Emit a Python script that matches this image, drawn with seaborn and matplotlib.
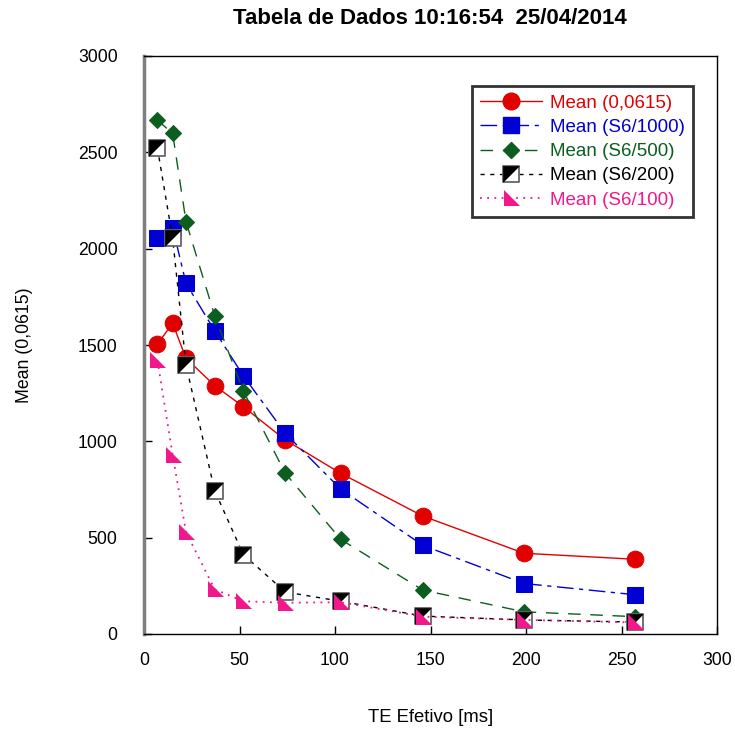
import numpy as np
import pandas as pd
import matplotlib
matplotlib.use("Agg")
import matplotlib.pyplot as plt
from matplotlib.path import Path
from matplotlib.lines import Line2D
from matplotlib.legend_handler import HandlerTuple
import seaborn as sns

# Effective echo time [ms] and mean signal for each acquisition
te_ms = [7, 15, 22, 37, 52, 74, 103, 146, 199, 257]
mean_0615 = [1505, 1612, 1431, 1289, 1180, 1007, 834, 612, 419, 388]
mean_s6_1000 = [2056, 2109, 1820, 1574, 1340, 1041, 752, 460, 262, 204]
mean_s6_500 = [2667, 2598, 2140, 1652, 1261, 834, 491, 228, 115, 90]
mean_s6_200 = [2524, 2053, 1396, 744, 412, 218, 170, 93, 73, 62]
mean_s6_100 = [1422, 929, 529, 232, 170, 162, 165, 90, 73, 60]

labels = ["Mean (0,0615)", "Mean (S6/1000)", "Mean (S6/500)",
          "Mean (S6/200)", "Mean (S6/100)"]
x_ticks = [0, 50, 100, 150, 200, 250, 300]
y_ticks = [0, 500, 1000, 1500, 2000, 2500, 3000]

sns.set_theme(style="white")
plt.rcParams["font.family"] = ["Liberation Sans", "DejaVu Sans"]
plt.rcParams["text.color"] = "black"
plt.rcParams["axes.labelcolor"] = "black"
plt.rcParams["xtick.color"] = "black"
plt.rcParams["ytick.color"] = "black"

RED = "#e00000"
BLUE = "#0000d2"
GREEN = "#0b5e1f"
BLACK = "#000000"
PINK = "#f0188a"

# marker shapes
upper_left_tri = Path([(-1, 1), (1, 1), (-1, -1), (-1, 1)],
                      [Path.MOVETO, Path.LINETO, Path.LINETO, Path.CLOSEPOLY])
square = Path([(-1, -1), (1, -1), (1, 1), (-1, 1), (-1, -1)],
              [Path.MOVETO, Path.LINETO, Path.LINETO, Path.LINETO, Path.CLOSEPOLY])
right_tri = Path([(-0.9, 1), (-0.9, -1), (1.1, -1), (-0.9, 1)],
                 [Path.MOVETO, Path.LINETO, Path.LINETO, Path.CLOSEPOLY])

fig = plt.figure(figsize=(7.35, 7.32), dpi=100)
ax = fig.add_axes([144 / 735, 1 - 634 / 732, 573 / 735, 578 / 732])

df = pd.DataFrame({"te": te_ms, "a": mean_0615, "b": mean_s6_1000,
                   "c": mean_s6_500, "d": mean_s6_200, "e": mean_s6_100})

lw = 1.0
MS = 12
sns.lineplot(data=df, x="te", y="a", ax=ax, color=RED, lw=lw, linestyle="-",
             marker="o", markersize=MS, markeredgecolor=RED,
             markerfacecolor=RED, zorder=3)
sns.lineplot(data=df, x="te", y="b", ax=ax, color=BLUE, lw=lw,
             linestyle=(0, (12, 4, 3, 4)),
             marker="s", markersize=MS, markeredgecolor=BLUE,
             markerfacecolor=BLUE, zorder=4)
sns.lineplot(data=df, x="te", y="c", ax=ax, color=GREEN, lw=lw,
             linestyle=(0, (9, 7)), marker="D", markersize=8.5,
             markeredgecolor=GREEN, markerfacecolor=GREEN, zorder=5)
sns.lineplot(data=df, x="te", y="d", ax=ax, color=BLACK, lw=lw,
             linestyle=(0, (3, 4)), marker=square, markersize=MS,
             markeredgecolor="#666666", markerfacecolor="white",
             markeredgewidth=1.3, zorder=6)
sns.lineplot(data=df, x="te", y="d", ax=ax, color=BLACK, linestyle="",
             marker=upper_left_tri, markersize=MS, markeredgewidth=0,
             markerfacecolor=BLACK, zorder=6.5)
sns.lineplot(data=df, x="te", y="e", ax=ax, color=PINK, lw=1.3,
             linestyle=(0, (1, 3)), marker=right_tri, markersize=13,
             markeredgewidth=0, markerfacecolor=PINK, zorder=7)

ax.set_xlim(0, 300)
ax.set_ylim(0, 3000)
ax.set_xticks(x_ticks)
ax.set_yticks(y_ticks)
ax.tick_params(axis="both", direction="in", length=6, width=1, colors="black",
               labelsize=12.7, left=True, bottom=True, top=False, right=False)
ax.tick_params(axis="y", pad=19)
ax.tick_params(axis="x", pad=13)
for side in ["top", "right", "bottom"]:
    ax.spines[side].set_color("black")
    ax.spines[side].set_linewidth(1.0)
ax.spines["left"].set_color("#7f7f7f")
ax.spines["left"].set_linewidth(2.5)

ax.set_xlabel("TE Efetivo [ms]", fontsize=13.3, labelpad=29)
ax.set_ylabel("Mean (0,0615)", fontsize=12.7, labelpad=32)
fig.text(430 / 735, 1 - 18 / 732, "Tabela de Dados 10:16:54  25/04/2014",
         ha="center", va="center", fontsize=16, fontweight="bold")

# legend
h_red = Line2D([], [], color=RED, lw=lw, marker="o", markersize=MS)
h_blue = Line2D([], [], color=BLUE, lw=lw, linestyle=(0, (12, 4, 3, 4)),
                marker="s", markersize=MS)
h_green = Line2D([], [], color=GREEN, lw=lw, linestyle=(0, (9, 7)),
                 marker="D", markersize=8.5)
h_black_a = Line2D([], [], color=BLACK, lw=lw, linestyle=(0, (3, 4)),
                   marker=square, markersize=MS, markerfacecolor="white",
                   markeredgecolor="#666666", markeredgewidth=1.3)
h_black_b = Line2D([], [], color=BLACK, linestyle="", marker=upper_left_tri,
                   markersize=MS, markeredgewidth=0)
h_pink = Line2D([], [], color=PINK, lw=1.3, linestyle=(0, (1, 3)),
                marker=right_tri, markersize=13, markeredgewidth=0)

leg = ax.legend([h_red, h_blue, h_green, (h_black_a, h_black_b), h_pink],
                labels, handler_map={tuple: HandlerTuple(ndivide=1)},
                loc="upper right", bbox_to_anchor=(693 / 735, 1 - 86 / 732),
                bbox_transform=fig.transFigure, fontsize=13.5, frameon=True,
                fancybox=False, edgecolor="black", handlelength=3.3,
                handletextpad=0.4, labelspacing=0.38, borderpad=0.45,
                borderaxespad=0)
leg.get_frame().set_linewidth(2.0)
for txt, col in zip(leg.get_texts(), [RED, BLUE, GREEN, BLACK, PINK]):
    txt.set_color(col)

fig.savefig("out.png", dpi=100)
